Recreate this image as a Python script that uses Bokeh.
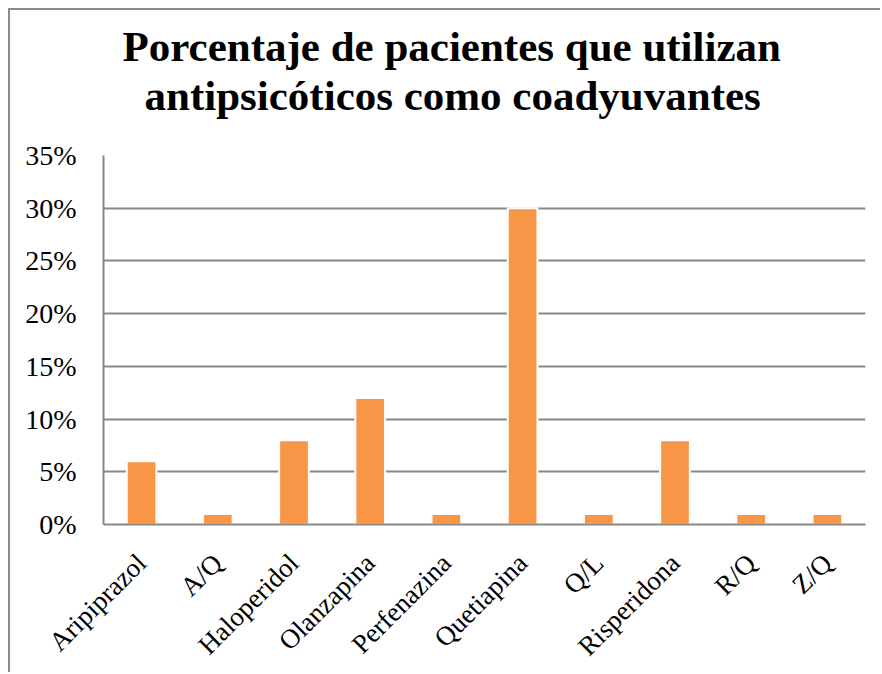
from bokeh.plotting import figure
from bokeh.models import Title, Range1d, NumeralTickFormatter, FixedTicker
from bokeh.embed import file_html
from bokeh.resources import INLINE
import math

categories = ["Aripiprazol", "A/Q", "Haloperidol", "Olanzapina", "Perfenazina",
              "Quetiapina", "Q/L", "Risperidona", "R/Q", "Z/Q"]
values = [0.06, 0.01, 0.08, 0.12, 0.01, 0.30, 0.01, 0.08, 0.01, 0.01]
y_ticks = [0, 0.05, 0.10, 0.15, 0.20, 0.25, 0.30, 0.35]

SERIF = "Liberation Serif"

p = figure(x_range=categories, width=872, height=664, output_backend="svg",
           toolbar_location=None, min_border_left=93, min_border_right=17,
           min_border_bottom=148, min_border_top=145)
p.styles = {"border-left": "2px solid #8c8c8c", "border-top": "2px solid #8c8c8c",
            "margin-left": "8px", "margin-top": "8px"}
p.y_range = Range1d(0, 0.35)

# spacer between the title and the plot area
p.add_layout(Title(text=" ", text_font_size="10px", standoff=24), "above")
p.add_layout(Title(text="antipsicóticos como coadyuvantes", align="left",
                   text_font=SERIF, text_font_size="43px", text_font_style="bold",
                   text_color="black", standoff=0, offset=41), "above")
p.add_layout(Title(text="Porcentaje de pacientes  que utilizan", align="left",
                   text_font=SERIF, text_font_size="43px", text_font_style="bold",
                   text_color="black", standoff=0, offset=19), "above")

# faint shadow
p.vbar(x=categories, top=values, width=0.42, fill_color="#000000", fill_alpha=0.07,
       line_color=None)
p.vbar(x=categories, top=values, width=0.39, fill_color="#F79646",
       line_color="white", line_width=2)

p.outline_line_color = None
p.xgrid.grid_line_color = None
p.ygrid.grid_line_color = "#878787"
p.ygrid.grid_line_width = 2
p.ygrid.ticker = FixedTicker(ticks=y_ticks)

p.yaxis.ticker = FixedTicker(ticks=y_ticks)
p.yaxis.formatter = NumeralTickFormatter(format="0%")
p.yaxis.major_tick_line_color = None
p.yaxis.minor_tick_line_color = None
p.yaxis.axis_line_color = "#878787"
p.yaxis.axis_line_width = 2
p.yaxis.major_label_text_font = SERIF
p.yaxis.major_label_text_font_size = "28px"
p.yaxis.major_label_text_color = "black"
p.yaxis.major_label_standoff = 21

p.xaxis.major_tick_line_color = None
p.xaxis.axis_line_color = "#878787"
p.xaxis.axis_line_width = 2
p.xaxis.major_label_orientation = math.pi / 4
p.xaxis.major_label_text_font = SERIF
p.xaxis.major_label_text_font_size = "27px"
p.xaxis.major_label_text_color = "black"
p.xaxis.major_label_standoff = 28

p.background_fill_color = "white"
p.border_fill_color = "white"

open("out.html", "w").write(file_html(p, INLINE))
